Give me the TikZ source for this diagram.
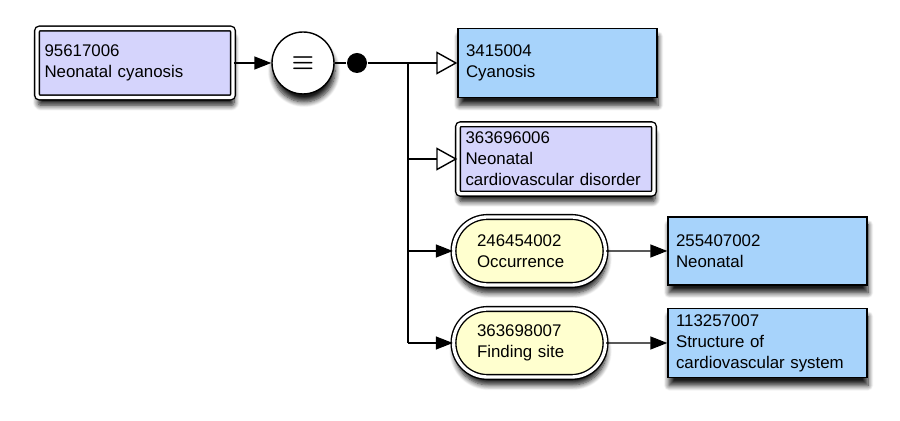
\documentclass[tikz,border=0pt]{standalone}
\usepackage{fontspec}
\setmainfont{Liberation Sans}
\usetikzlibrary{arrows.meta,shapes.misc,shadows.blur}
\definecolor{primcol}{HTML}{D5D4FC}
\definecolor{defcol}{HTML}{A7D3FB}
\definecolor{attrcol}{HTML}{FFFFCF}

\begin{document}
\begin{tikzpicture}[x=0.02cm, y=-0.02cm, line width=0.8pt]
    \useasboundingbox (0,0) rectangle (900,421);

    \tikzset{ShadowStyle/.style={blur shadow={shadow xshift=0.6pt, shadow yshift=-4.5pt,
        shadow blur radius=3pt, shadow blur steps=8, shadow opacity=90}}}
    \tikzset{ConceptStyle/.style={rectangle, draw=black, align=left,
        font=\fontsize{9.6}{12}\selectfont, minimum height=1.38cm,
        inner xsep=0.16cm, text width=3.66cm, ShadowStyle}}
    \tikzset{DefinedStyle/.style={ConceptStyle, fill=defcol}}
    \tikzset{PrimitiveStyle/.style={ConceptStyle, fill=primcol, rounded corners=1.5pt,
        double=white, double distance=1.9pt, inner xsep=0.15cm, text width=3.62cm}}
    \tikzset{AttributeStyle/.style={rounded rectangle, draw=black, fill=attrcol,
        double=white, double distance=1.9pt, align=left, inner xsep=0pt, text width=2.1cm,
        font=\fontsize{9.6}{12}\selectfont, minimum width=3.04cm, minimum height=1.36cm,
        ShadowStyle}}
    \tikzset{OperatorStyle/.style={circle, draw=black, fill=white, minimum size=1.24cm,
        inner sep=0pt, font=\boldmath\Large, ShadowStyle}}
    \tikzset{ConjunctionStyle/.style={circle, fill=black, minimum size=0.4cm, inner sep=0pt}}
    \tikzset{IsaStyle/.style={-{Triangle[open, length=0.42cm, width=0.46cm, fill=white]}}}
    \tikzset{RelStyle/.style={-{Triangle[length=0.34cm, width=0.26cm]}}}

    \node[PrimitiveStyle] (neocyan) at (135,63)     {95617006\\Neonatal cyanosis};
    \node[OperatorStyle]  (equiv)   at (303,63)     {$\equiv$};
    \node[ConjunctionStyle] (conj)  at (357,63)     {};

    \node[DefinedStyle]   (cyan)    at (557.5,63)   {3415004\\Cyanosis};
    \node[PrimitiveStyle, minimum height=1.39cm] (cvdis) at (556,159)
        {363696006\\Neonatal\\cardiovascular disorder};
    \node[AttributeStyle] (occur)   at (529.5,251)  {246454002\\Occurrence};
    \node[DefinedStyle, minimum height=1.36cm] (neonat) at (767.5,251) {255407002\\Neonatal};
    \node[AttributeStyle] (fsite)   at (529.5,343)  {363698007\\Finding site};
    \node[DefinedStyle, minimum height=1.36cm] (cvstruct) at (767.5,343)
        {113257007\\Structure of\\cardiovascular system};

    \coordinate (b1) at (408,63);
    \coordinate (b2) at (408,159);
    \coordinate (b3) at (408,251);
    \coordinate (b4) at (408,343);

    \draw[RelStyle] (neocyan) -- (equiv);
    \draw (equiv) -- (conj);
    \draw (conj) -- (b1);
    \draw (b1) -- (b4);

    \draw[IsaStyle] (b1) -- (cyan);
    \draw[IsaStyle] (b2) -- (cvdis);
    \draw[RelStyle] (b3) -- (occur);
    \draw[RelStyle] (b4) -- (fsite);
    \draw[RelStyle] (occur) -- (neonat);
    \draw[RelStyle] (fsite) -- (cvstruct);

\end{tikzpicture}
\end{document}
